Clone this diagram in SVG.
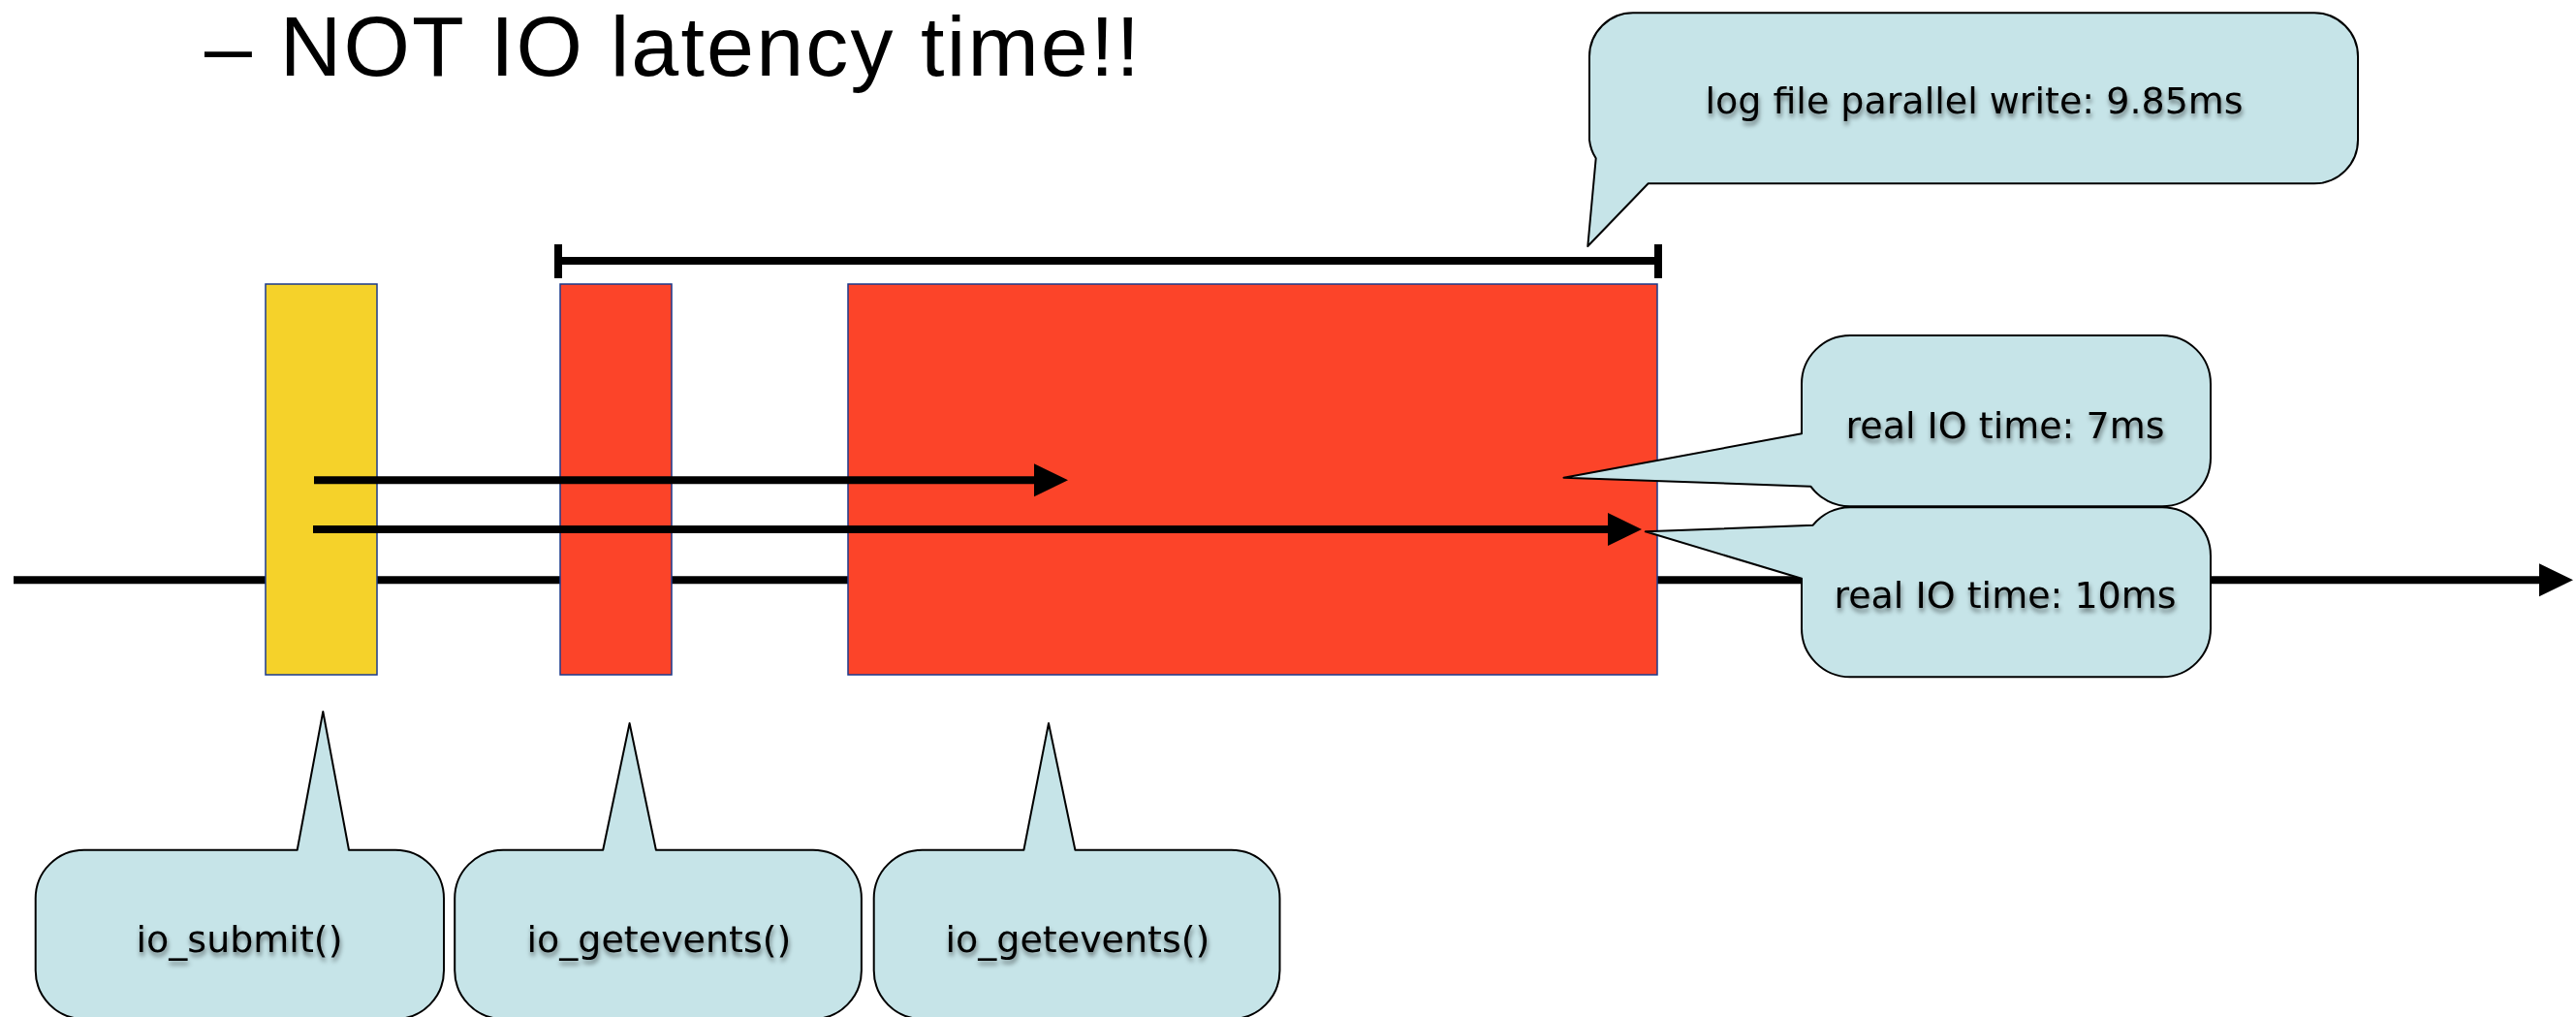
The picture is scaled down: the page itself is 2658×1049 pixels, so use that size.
<svg xmlns="http://www.w3.org/2000/svg" width="2658" height="1049" viewBox="0 0 2658 1049">
  <style>
    .bar { stroke: #1b3a8c; stroke-width: 1.5; }
    .bar-submit { fill: #f5d22a; }
    .bar-wait { fill: #fc4429; }
    .bubble { fill: #c6e4e8; stroke: #000; stroke-width: 2; stroke-linejoin: round; }
    .bubble-text { font-family: "DejaVu Sans", "Noto Sans", sans-serif; font-size: 38px; fill: #000; text-anchor: middle; filter: url(#textShadow); }
    .title { font-family: "Liberation Sans", Arial, sans-serif; font-size: 88px; fill: #000; }
    .line { stroke: #000; stroke-width: 8; fill: none; }
  </style>
  <defs>
    <marker id="head" markerUnits="userSpaceOnUse" markerWidth="36" markerHeight="36" refX="0" refY="17" orient="auto">
      <path d="M0,0 L35,17 L0,34 Z" fill="#000"/>
    </marker>
    <filter id="textShadow" x="-10%" y="-40%" width="120%" height="180%">
      <feGaussianBlur in="SourceAlpha" stdDeviation="2.5" result="blur"/>
      <feOffset in="blur" dx="1" dy="4" result="off"/>
      <feComponentTransfer in="off" result="soft">
        <feFuncA type="linear" slope="0.5"/>
      </feComponentTransfer>
      <feMerge>
        <feMergeNode in="soft"/>
        <feMergeNode in="SourceGraphic"/>
      </feMerge>
    </filter>
  </defs>

  <rect width="2658" height="1049" fill="#fff"/>

  <!-- heading line -->
  <text class="title" x="211" y="78" textLength="965">– NOT IO latency time!!</text>

  <!-- time axis, bracket and IO arrows -->
  <g id="connectors">
    <line id="timeline" class="line" x1="14" y1="598.3" x2="2620" y2="598.3" marker-end="url(#head)"/>
    <path id="span-bracket" class="line" stroke-width="7" d="M576,252 V287 M576,269 H1711 M1711,252 V287"/>
  </g>

  <!-- syscall bars -->
  <g id="bar-submit"><rect class="bar bar-submit" x="274" y="293" width="115" height="403"/></g>
  <g id="bar-getevents-1"><rect class="bar bar-wait" x="578" y="293" width="115" height="403"/></g>
  <g id="bar-getevents-2"><rect class="bar bar-wait" x="875" y="293" width="835" height="403"/></g>

  <g id="io-arrows">
    <line id="io-7ms" class="line" x1="324" y1="495.3" x2="1067" y2="495.3" marker-end="url(#head)"/>
    <line id="io-10ms" class="line" x1="323" y1="546" x2="1659" y2="546" marker-end="url(#head)"/>
  </g>

  <!-- callouts -->
  <g id="callout-logwrite">
    <path class="bubble" d="M1685,13.3 H2388 A45,45 0 0 1 2433,58.3 V144.3 A45,45 0 0 1 2388,189.3 H1700.7 L1638.3,254 L1646.7,163.3 A45,45 0 0 1 1640,144.3 V58.3 A45,45 0 0 1 1685,13.3 Z"/>
    <text class="bubble-text" x="2037" y="116.7" font-size="38.8">log file parallel write: 9.85ms</text>
  </g>

  <g id="callout-7ms">
    <path class="bubble" d="M1909,346 H2231 A50,50 0 0 1 2281,396 V472.3 A50,50 0 0 1 2231,522.3 H1909 A50,50 0 0 1 1868.3,501.7 L1613.5,492.7 L1859,447.3 V396 A50,50 0 0 1 1909,346 Z"/>
    <text class="bubble-text" x="2069" y="451.7">real IO time: 7ms</text>
  </g>

  <g id="callout-10ms">
    <path class="bubble" d="M1909,523.3 H2231 A50,50 0 0 1 2281,573.3 V648.3 A50,50 0 0 1 2231,698.3 H1909 A50,50 0 0 1 1859,648.3 V596.7 L1697.8,548.3 L1870.7,541.7 A50,50 0 0 1 1909,523.3 Z"/>
    <text class="bubble-text" x="2069" y="626.7">real IO time: 10ms</text>
  </g>

  <g id="callout-submit">
    <path class="bubble" d="M86.7,876.7 H306.7 L333.3,734 L360,876.7 H408 A50,50 0 0 1 458,926.7 V1001 A50,50 0 0 1 408,1051 H86.7 A50,50 0 0 1 36.7,1001 V926.7 A50,50 0 0 1 86.7,876.7 Z"/>
    <text class="bubble-text" x="247" y="981.7">io_submit()</text>
  </g>

  <g id="callout-getevents-1">
    <path class="bubble" d="M519.2,876.7 H622.2 L649.6,746 L676.9,876.7 H838.9 A50,50 0 0 1 888.9,926.7 V1001 A50,50 0 0 1 838.9,1051 H519.2 A50,50 0 0 1 469.2,1001 V926.7 A50,50 0 0 1 519.2,876.7 Z"/>
    <text class="bubble-text" x="680" y="981.7">io_getevents()</text>
  </g>

  <g id="callout-getevents-2">
    <path class="bubble" d="M951.7,876.7 H1056.4 L1082,746 L1109.4,876.7 H1270.5 A50,50 0 0 1 1320.5,926.7 V1001 A50,50 0 0 1 1270.5,1051 H951.7 A50,50 0 0 1 901.7,1001 V926.7 A50,50 0 0 1 951.7,876.7 Z"/>
    <text class="bubble-text" x="1112" y="981.7">io_getevents()</text>
  </g>
</svg>
